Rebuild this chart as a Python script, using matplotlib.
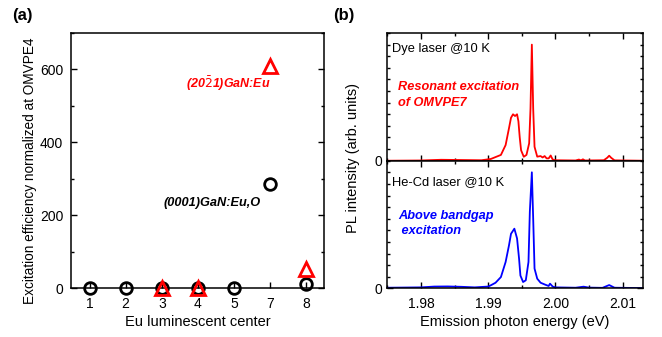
import numpy as np
import matplotlib
matplotlib.use('Agg')
import matplotlib.pyplot as plt
from matplotlib.ticker import MultipleLocator, FixedLocator, FormatStrFormatter

plt.rcParams['font.family'] = ['Liberation Sans', 'DejaVu Sans']
plt.rcParams['mathtext.fontset'] = 'custom'
plt.rcParams['mathtext.it'] = 'Liberation Sans:italic:bold'
plt.rcParams['axes.linewidth'] = 1.1

# panel (a) data
centers = ['1', '2', '3', '4', '5', '7', '8']
eff_0001 = [0, 0, 0, 0, 0, 286, 12]
eff_2021 = [np.nan, np.nan, 0, 0, np.nan, 610, 53]

# panel (b) data
E_dye = [1.975, 1.980, 1.983, 1.986, 1.989, 1.9904, 1.9919, 1.9926, 1.9931, 1.9934,
         1.9937, 1.9940, 1.9943, 1.9945, 1.9947, 1.9949, 1.9953, 1.9957, 1.9961, 1.9963,
         1.9965, 1.9967, 1.9969, 1.9973, 1.9978, 1.9981, 1.9984, 1.9987, 1.9990, 1.9993,
         1.9996, 2.0000, 2.0030, 2.0035, 2.0038, 2.0041, 2.0044, 2.0072, 2.0077, 2.0080,
         2.0083, 2.0088, 2.0130]
I_dye = [0.0, 0.002, 0.008, 0.006, 0.004, 0.015, 0.05, 0.135, 0.28, 0.37,
         0.40, 0.385, 0.40, 0.34, 0.20, 0.09, 0.034, 0.05, 0.15, 0.45,
         1.0, 0.45, 0.12, 0.035, 0.04, 0.028, 0.04, 0.02, 0.02, 0.045,
         0.01, 0.004, 0.002, 0.01, 0.003, 0.012, 0.002, 0.004, 0.025, 0.043,
         0.025, 0.003, 0.0]

E_hecd = [1.975, 1.980, 1.982, 1.984, 1.986, 1.988, 1.990, 1.9904, 1.9911, 1.9919,
          1.9926, 1.9931, 1.9934, 1.9939, 1.9943, 1.9946, 1.9948, 1.9952, 1.9956, 1.9960,
          1.9962, 1.9965, 1.9967, 1.9969, 1.9973, 1.9978, 1.9985, 1.9990, 1.9992, 1.9996,
          2.0000, 2.0030, 2.0042, 2.0050, 2.0070, 2.0080, 2.0088, 2.0130]
I_hecd = [0.005, 0.008, 0.015, 0.016, 0.013, 0.008, 0.015, 0.026, 0.048, 0.097,
          0.227, 0.37, 0.47, 0.514, 0.43, 0.255, 0.11, 0.054, 0.069, 0.227,
          0.66, 1.0, 0.6, 0.17, 0.083, 0.048, 0.031, 0.02, 0.04, 0.015,
          0.008, 0.005, 0.014, 0.006, 0.004, 0.028, 0.005, 0.002]

fig = plt.figure(figsize=(6.62, 3.37), dpi=100)

# ---- (a) ----
axa = fig.add_axes([0.108, 0.1445, 0.382, 0.758])
pos = np.arange(len(centers)) + 1
axa.plot(pos, eff_0001, 'o', ms=8.4, mfc='none', mec='k', mew=2.0, clip_on=False, zorder=3)
axa.plot(pos, eff_2021, '^', ms=9.5, mfc='none', mec='red', mew=2.0, clip_on=False, zorder=4)
axa.set_xlim(0.5, 7.5)
axa.set_ylim(0, 700)
axa.set_xticks(pos)
axa.set_xticklabels(centers)
axa.yaxis.set_major_locator(MultipleLocator(200))
axa.yaxis.set_minor_locator(MultipleLocator(100))
axa.tick_params(axis='both', which='both', direction='in', labelsize=10, right=True)
axa.tick_params(which='major', length=4, width=1)
axa.tick_params(which='minor', length=2.5, width=1)
axa.tick_params(axis='x', pad=6)
axa.tick_params(axis='y', pad=6)
axa.set_xlabel('Eu luminescent center', fontsize=10.5, labelpad=3)
axa.set_ylabel('Excitation efficiency normalized at OMVPE4', fontsize=9.8)
axa.yaxis.set_label_coords(-0.137, 0.46)
axa.text(4.83, 560, r'(20$\bar{\mathit{2}}$1)GaN:Eu', color='red', fontsize=9,
         fontweight='bold', fontstyle='italic', ha='center', va='center')
axa.text(4.39, 233, '(0001)GaN:Eu,O', color='k', fontsize=9.2,
         fontweight='bold', fontstyle='italic', ha='center', va='center')
fig.text(0.018, 0.955, '(a)', fontsize=12, fontweight='bold', va='center')

# ---- (b) ----
axt = fig.add_axes([0.585, 0.5231, 0.386, 0.3789])
axbot = fig.add_axes([0.585, 0.1445, 0.386, 0.3786], sharex=axt)
axt.plot(E_dye, I_dye, color='red', lw=1.3)
axbot.plot(E_hecd, I_hecd, color='blue', lw=1.3)

for ax in (axt, axbot):
    ax.set_xlim(1.975, 2.013)
    ax.set_ylim(0, 1.1)
    ax.xaxis.set_major_locator(MultipleLocator(0.01))
    ax.xaxis.set_minor_locator(MultipleLocator(0.005))
    ax.yaxis.set_major_locator(FixedLocator([0]))
    ax.yaxis.set_minor_locator(MultipleLocator(0.1))
    ax.tick_params(axis='both', which='both', direction='in', labelsize=10, top=True, right=True)
    ax.tick_params(which='major', length=4, width=1)
    ax.tick_params(which='minor', length=2.5, width=1)
    ax.tick_params(axis='x', pad=6)
axt.tick_params(labelbottom=False)
axbot.xaxis.set_major_formatter(FormatStrFormatter('%.2f'))
axbot.set_xlabel('Emission photon energy (eV)', fontsize=10.5, labelpad=3)
fig.text(0.533, 0.531, 'PL intensity (arb. units)', fontsize=10.5, rotation=90,
         ha='center', va='center')

axt.text(0.017, 0.875, 'Dye laser @10 K', transform=axt.transAxes, fontsize=9.3, va='center')
axt.text(0.042, 0.514, 'Resonant excitation\nof OMVPE7', transform=axt.transAxes, color='red',
         fontsize=9.2, fontweight='bold', fontstyle='italic', va='center', linespacing=1.4)
axbot.text(0.017, 0.835, 'He-Cd laser @10 K', transform=axbot.transAxes, fontsize=9.3, va='center')
axbot.text(0.043, 0.508, 'Above bandgap\n excitation', transform=axbot.transAxes, color='blue',
           fontsize=9.2, fontweight='bold', fontstyle='italic', va='center', linespacing=1.35)
fig.text(0.503, 0.955, '(b)', fontsize=12, fontweight='bold', va='center')

fig.savefig('out.png', dpi=100)
